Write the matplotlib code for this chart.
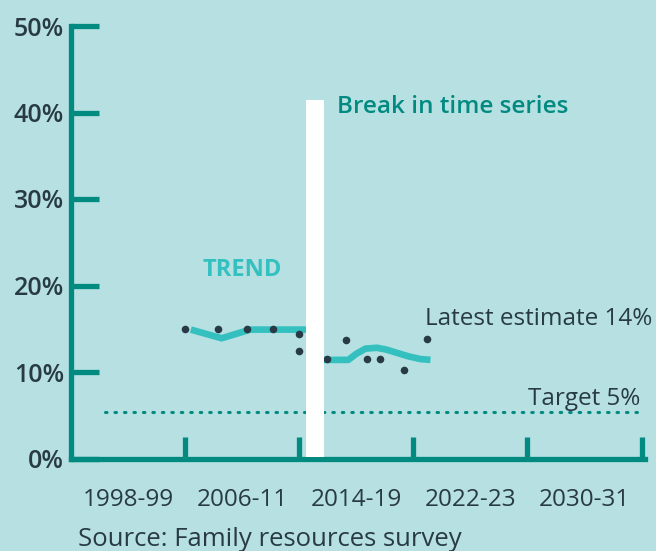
import matplotlib
matplotlib.use("Agg")
import matplotlib.pyplot as plt
import numpy as np

# ---- data ----
period_labels = ["1998-99", "2006-11", "2014-19", "2022-23", "2030-31"]
label_pos = [0.5, 1.5, 2.5, 3.5, 4.5]
tick_pos = [1, 2, 3, 4, 5]
y_ticks = [0, 10, 20, 30, 40, 50]

dot_x = [1.00, 1.29, 1.54, 1.77, 2.00, 2.00, 2.14, 2.24, 2.41, 2.59, 2.71, 2.92, 3.12]
dot_y = [15.0, 15.0, 15.0, 15.0, 14.4, 12.4, 8.6, 11.5, 13.7, 11.5, 11.5, 10.2, 13.8]

trend1_x = [1.05, 1.32, 1.57, 2.12]
trend1_y = [14.9, 13.9, 14.9, 14.9]
trend2_x = [2.12, 2.24, 2.43, 2.50, 2.58, 2.68, 2.76, 2.86, 2.96, 3.06, 3.15]
trend2_y = [11.4, 11.4, 11.4, 12.1, 12.7, 12.8, 12.6, 12.2, 11.8, 11.5, 11.4]

target = 5.4
break_x = (2.06, 2.22)

BG = "#b6e0e2"
TEAL = "#008a80"
CYAN = "#35c0c0"
DARK = "#283a45"
FONT = "Open Sans"

fig = plt.figure(figsize=(6.56, 5.51), dpi=100, facecolor=BG)
W, H = 656, 551
ax = fig.add_axes([71 / W, (H - 458.5) / H, (645 - 71) / W, (458.5 - 26) / H])
ax.set_facecolor(BG)
ax.set_xlim(0, 5.03)
ax.set_ylim(0, 50)

for s in ["top", "right"]:
    ax.spines[s].set_visible(False)
for s in ["left", "bottom"]:
    ax.spines[s].set_color(TEAL)
    ax.spines[s].set_linewidth(3.8)
    ax.spines[s].set_capstyle("projecting")

ax.set_yticks(y_ticks)
ax.set_yticklabels([f"{v}%" for v in y_ticks])
ax.tick_params(axis="y", direction="in", length=20, width=3.8, color=TEAL,
               pad=5, labelsize=18, labelcolor=DARK)
ax.set_xticks(tick_pos)
ax.set_xticklabels([""] * len(tick_pos))
ax.tick_params(axis="x", which="major", direction="in", length=16, width=3.8, color=TEAL)
ax.set_xticks(label_pos, minor=True)
ax.set_xticklabels(period_labels, minor=True)
ax.tick_params(axis="x", which="minor", length=0, pad=21, labelsize=17.5, labelcolor=DARK)
for lab in ax.get_yticklabels() + ax.get_xticklabels(minor=True):
    lab.set_fontfamily(FONT)
    lab.set_fontweight("medium")
for lab in ax.get_yticklabels():
    lab.set_fontweight("semibold")

# target dotted line
ax.plot([0.3, 5.0], [target, target], color=TEAL, lw=2.2, linestyle=(0, (0.5, 2.6)),
        dash_capstyle="round", zorder=2)

# trend lines
ax.plot(trend1_x, trend1_y, color=CYAN, lw=4.8, solid_capstyle="butt", zorder=3)
ax.plot(trend2_x, trend2_y, color=CYAN, lw=4.8, solid_capstyle="butt", zorder=3)

# dots
ax.scatter(dot_x, dot_y, s=30, color=DARK, zorder=4, linewidths=0)

# break bar
ax.axvspan(break_x[0], break_x[1], ymin=0.004, ymax=(459 - 101) / 432.5,
           color="white", zorder=5, lw=0)

ax.text(break_x[1] + 0.11, 40.6, "Break in time series", color=TEAL, fontsize=17.5,
        fontweight="semibold", family=FONT, va="center", ha="left")
ax.text(1.50, 21.8, "TREND", color=CYAN, fontsize=17, fontweight="bold",
        family=FONT, va="center", ha="center")
ax.text(3.10, 16.1, "Latest estimate 14%", color=DARK, fontsize=17.5,
        family=FONT, va="center", ha="left", fontweight="medium")
ax.text(4.99, 6.9, "Target 5%", color=DARK, fontsize=17.5,
        family=FONT, va="center", ha="right", fontweight="medium")

fig.text(78 / W, 1 - 540 / H, "Source: Family resources survey", color=DARK,
         fontsize=18.5, family=FONT, va="center", ha="left", fontweight="medium")

fig.savefig("out.png", dpi=100, facecolor=BG)
